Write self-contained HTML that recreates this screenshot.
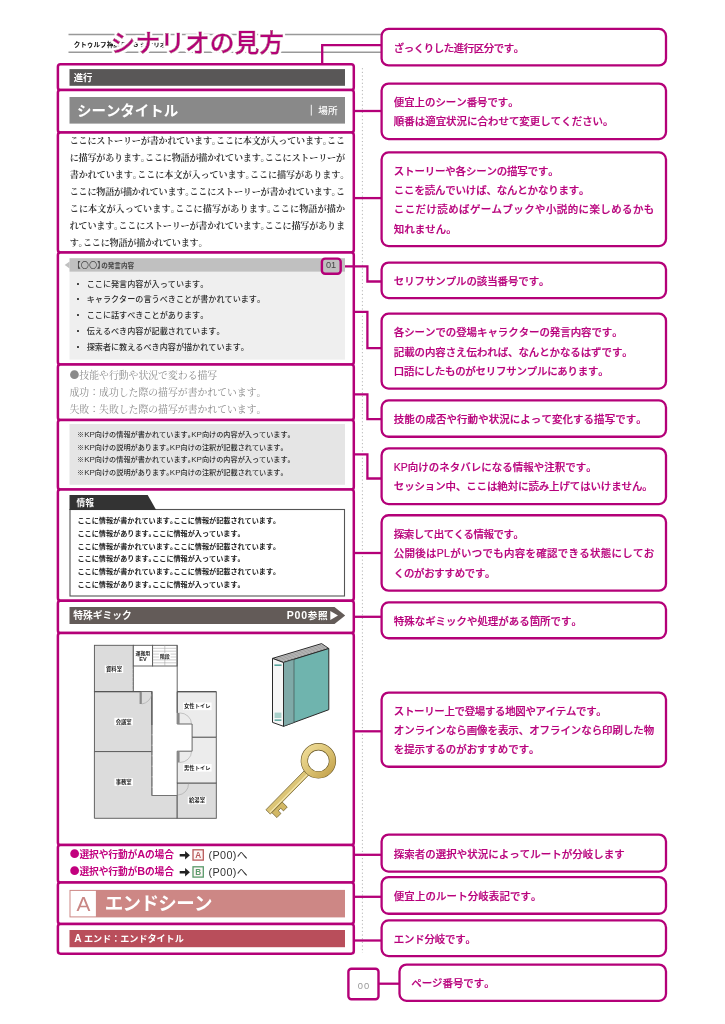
<!DOCTYPE html>
<html lang="ja">
<head>
<meta charset="utf-8">
<title>シナリオの見方</title>
<style>
html,body{margin:0;padding:0;background:#fff;}
body{width:725px;height:1024px;overflow:hidden;font-family:"Liberation Sans","Noto Sans CJK JP",sans-serif;}
svg{display:block;will-change:transform;}
text{white-space:pre;font-kerning:none;}
.h{font-feature-settings:"halt";}
.cg{font-family:"Noto Sans CJK JP","Liberation Sans",sans-serif;}
.cs{font-family:"Noto Serif CJK JP","Noto Serif CJK SC","Liberation Serif",serif;}
</style>
</head>
<body>
<svg width="725" height="1024" viewBox="0 0 725 1024">
<!-- header -->
<line x1="68.5" y1="34.4" x2="381" y2="34.4" stroke="#999" stroke-width="1.5"/>
<line x1="68.5" y1="52.3" x2="381" y2="52.3" stroke="#999" stroke-width="1.5"/>
<text x="73.70" y="46.54" font-size="6.6" font-weight="700" fill="#111" font-family='"Liberation Sans","Noto Sans CJK JP",sans-serif'>クトゥルフ神話TRPG シナリオ</text>
<defs><filter id="ol" x="-5%" y="-20%" width="110%" height="140%"><feMorphology in="SourceAlpha" operator="dilate" radius="2.1" result="d"/><feFlood flood-color="#fff"/><feComposite in2="d" operator="in" result="w"/><feMerge><feMergeNode in="w"/><feMergeNode in="SourceGraphic"/></feMerge></filter></defs>
<text x="110.6" y="52.08" font-size="24.8" font-weight="500" fill="#b40078" stroke="#b40078" stroke-width="0.55" filter="url(#ol)" font-family='"Liberation Sans","Noto Sans CJK JP",sans-serif' textLength="173.5" lengthAdjust="spacing">シナリオの見方</text>
<line x1="362.4" y1="68.2" x2="362.4" y2="953" stroke="#b0b0b0" stroke-width="1" stroke-dasharray="1.1 2.54"/>
<rect x="57.90" y="64.25" width="295.90" height="25.75" rx="2.6" ry="2.6" fill="#fff" stroke="#b40078" stroke-width="2.5"/>
<rect x="57.90" y="90.00" width="295.90" height="42.55" rx="2.6" ry="2.6" fill="#fff" stroke="#b40078" stroke-width="2.5"/>
<rect x="57.90" y="132.55" width="295.90" height="119.85" rx="2.6" ry="2.6" fill="#fff" stroke="#b40078" stroke-width="2.5"/>
<rect x="57.90" y="252.40" width="295.90" height="112.20" rx="2.6" ry="2.6" fill="#fff" stroke="#b40078" stroke-width="2.5"/>
<rect x="57.90" y="364.60" width="295.90" height="55.40" rx="2.6" ry="2.6" fill="#fff" stroke="#b40078" stroke-width="2.5"/>
<rect x="57.90" y="420.00" width="295.90" height="69.50" rx="2.6" ry="2.6" fill="#fff" stroke="#b40078" stroke-width="2.5"/>
<rect x="57.90" y="489.50" width="295.90" height="111.20" rx="2.6" ry="2.6" fill="#fff" stroke="#b40078" stroke-width="2.5"/>
<rect x="57.90" y="600.70" width="295.90" height="32.40" rx="2.6" ry="2.6" fill="#fff" stroke="#b40078" stroke-width="2.5"/>
<rect x="57.90" y="633.10" width="295.90" height="211.90" rx="2.6" ry="2.6" fill="#fff" stroke="#b40078" stroke-width="2.5"/>
<rect x="57.90" y="845.00" width="295.90" height="37.50" rx="2.6" ry="2.6" fill="#fff" stroke="#b40078" stroke-width="2.5"/>
<rect x="57.90" y="882.50" width="295.90" height="41.40" rx="2.6" ry="2.6" fill="#fff" stroke="#b40078" stroke-width="2.5"/>
<rect x="57.90" y="923.90" width="295.90" height="29.80" rx="2.6" ry="2.6" fill="#fff" stroke="#b40078" stroke-width="2.5"/>
<polyline points="322.20,64.20 322.20,45.10 381.60,45.10" fill="none" stroke="#b40078" stroke-width="2.3" stroke-linejoin="miter"/>
<polyline points="353.80,111.00 381.60,111.00" fill="none" stroke="#b40078" stroke-width="2.3" stroke-linejoin="miter"/>
<polyline points="353.80,198.10 381.60,198.10" fill="none" stroke="#b40078" stroke-width="2.3" stroke-linejoin="miter"/>
<polyline points="353.80,553.00 381.60,553.00" fill="none" stroke="#b40078" stroke-width="2.3" stroke-linejoin="miter"/>
<polyline points="353.80,616.80 381.60,616.80" fill="none" stroke="#b40078" stroke-width="2.3" stroke-linejoin="miter"/>
<polyline points="353.80,731.30 381.60,731.30" fill="none" stroke="#b40078" stroke-width="2.3" stroke-linejoin="miter"/>
<polyline points="353.80,854.80 381.60,854.80" fill="none" stroke="#b40078" stroke-width="2.3" stroke-linejoin="miter"/>
<polyline points="353.80,896.80 381.60,896.80" fill="none" stroke="#b40078" stroke-width="2.3" stroke-linejoin="miter"/>
<polyline points="353.80,940.50 381.60,940.50" fill="none" stroke="#b40078" stroke-width="2.3" stroke-linejoin="miter"/>
<polyline points="341.00,266.30 367.40,266.30 367.40,281.50 381.60,281.50" fill="none" stroke="#b40078" stroke-width="2.3" stroke-linejoin="miter"/>
<polyline points="353.80,311.90 367.40,311.90 367.40,348.20 381.60,348.20" fill="none" stroke="#b40078" stroke-width="2.3" stroke-linejoin="miter"/>
<polyline points="353.80,394.30 367.40,394.30 367.40,419.20 381.60,419.20" fill="none" stroke="#b40078" stroke-width="2.3" stroke-linejoin="miter"/>
<polyline points="353.80,454.30 367.40,454.30 367.40,478.50 381.60,478.50" fill="none" stroke="#b40078" stroke-width="2.3" stroke-linejoin="miter"/>
<polyline points="378.50,983.70 399.50,983.70" fill="none" stroke="#b40078" stroke-width="2.3" stroke-linejoin="miter"/>
<rect x="69.50" y="69.10" width="275.50" height="16.70" fill="#595757"/>
<text x="73.70" y="81.08" font-size="9.4" font-weight="700" fill="#fff" font-family='"Liberation Sans","Noto Sans CJK JP",sans-serif'>進行</text>
<rect x="69.50" y="97.00" width="275.50" height="26.60" fill="#898989"/>
<text x="77.00" y="115.77" font-size="14.5" font-weight="700" fill="#fff" font-family='"Liberation Sans","Noto Sans CJK JP",sans-serif' textLength="101.2" lengthAdjust="spacing">シーンタイトル</text>
<line x1="311.3" y1="104.8" x2="311.3" y2="115.6" stroke="#fff" stroke-width="0.9"/>
<text x="318.30" y="113.85" font-size="9.6" font-weight="500" fill="#fff" font-family='"Liberation Sans","Noto Sans CJK JP",sans-serif'>場所</text>
<text x="69.70" y="143.57" font-size="9.1" font-weight="700" fill="#3c3c3c" font-family='"Liberation Serif","Noto Serif CJK JP","Noto Serif CJK SC",serif' textLength="275.3" lengthAdjust="spacing">ここにストーリーが書かれています<tspan class="h">。</tspan>ここに本文が入っています<tspan class="h">。</tspan>ここ</text>
<text x="69.70" y="160.57" font-size="9.1" font-weight="700" fill="#3c3c3c" font-family='"Liberation Serif","Noto Serif CJK JP","Noto Serif CJK SC",serif' textLength="275.3" lengthAdjust="spacing">に描写があります<tspan class="h">。</tspan>ここに物語が描かれています<tspan class="h">。</tspan>ここにストーリーが</text>
<text x="69.70" y="177.57" font-size="9.1" font-weight="700" fill="#3c3c3c" font-family='"Liberation Serif","Noto Serif CJK JP","Noto Serif CJK SC",serif' textLength="279.6" lengthAdjust="spacing">書かれています<tspan class="h">。</tspan>ここに本文が入っています<tspan class="h">。</tspan>ここに描写があります。</text>
<text x="69.70" y="194.57" font-size="9.1" font-weight="700" fill="#3c3c3c" font-family='"Liberation Serif","Noto Serif CJK JP","Noto Serif CJK SC",serif' textLength="275.3" lengthAdjust="spacing">ここに物語が描かれています<tspan class="h">。</tspan>ここにストーリーが書かれています<tspan class="h">。</tspan>こ</text>
<text x="69.70" y="211.57" font-size="9.1" font-weight="700" fill="#3c3c3c" font-family='"Liberation Serif","Noto Serif CJK JP","Noto Serif CJK SC",serif' textLength="275.3" lengthAdjust="spacing">こに本文が入っています<tspan class="h">。</tspan>ここに描写があります<tspan class="h">。</tspan>ここに物語が描か</text>
<text x="69.70" y="228.57" font-size="9.1" font-weight="700" fill="#3c3c3c" font-family='"Liberation Serif","Noto Serif CJK JP","Noto Serif CJK SC",serif' textLength="275.3" lengthAdjust="spacing">れています<tspan class="h">。</tspan>ここにストーリーが書かれています<tspan class="h">。</tspan>ここに描写がありま</text>
<text x="69.70" y="245.57" font-size="9.1" font-weight="700" fill="#3c3c3c" font-family='"Liberation Serif","Noto Serif CJK JP","Noto Serif CJK SC",serif' textLength="137.9" lengthAdjust="spacing">す<tspan class="h">。</tspan>ここに物語が描かれています。</text>
<rect x="69.50" y="271.60" width="275.50" height="88.00" fill="#efefef"/>
<rect x="69.50" y="258.20" width="275.50" height="13.50" fill="#c0c0c0"/>
<polygon points="69.6,261.4 64.7,264.9 69.6,268.4" fill="#c0c0c0"/>
<text x="76.6" y="267.93" font-family='"Liberation Sans","Noto Sans CJK JP",sans-serif' fill="#444"><tspan font-size="8.2" font-weight="400"><tspan class="h">【</tspan>〇〇<tspan class="h">】</tspan></tspan><tspan font-size="6.6" font-weight="700" dy="-0.3">の発言内容</tspan></text>
<rect x="321.90" y="258.60" width="18.80" height="15.20" rx="3.2" ry="3.2" fill="#c0c0c0" stroke="#b40078" stroke-width="2.4"/>
<text x="331.00" y="268.47" font-size="9.2" font-weight="400" fill="#444" font-family='"Liberation Sans","Noto Sans CJK JP",sans-serif' text-anchor="middle">01</text>
<text x="74.00" y="286.56" font-size="8" font-weight="700" fill="#222" font-family='"Liberation Sans","Noto Sans CJK JP",sans-serif'>・</text>
<text x="86.70" y="286.60" font-size="8.12" font-weight="500" fill="#2e2e2e" font-family='"Liberation Sans","Noto Sans CJK JP",sans-serif'>ここに発言内容が入っています。</text>
<text x="74.00" y="302.31" font-size="8" font-weight="700" fill="#222" font-family='"Liberation Sans","Noto Sans CJK JP",sans-serif'>・</text>
<text x="86.70" y="302.35" font-size="8.12" font-weight="500" fill="#2e2e2e" font-family='"Liberation Sans","Noto Sans CJK JP",sans-serif'>キャラクターの言うべきことが書かれています。</text>
<text x="74.00" y="318.06" font-size="8" font-weight="700" fill="#222" font-family='"Liberation Sans","Noto Sans CJK JP",sans-serif'>・</text>
<text x="86.70" y="318.10" font-size="8.12" font-weight="500" fill="#2e2e2e" font-family='"Liberation Sans","Noto Sans CJK JP",sans-serif'>ここに話すべきことがあります。</text>
<text x="74.00" y="333.81" font-size="8" font-weight="700" fill="#222" font-family='"Liberation Sans","Noto Sans CJK JP",sans-serif'>・</text>
<text x="86.70" y="333.85" font-size="8.12" font-weight="500" fill="#2e2e2e" font-family='"Liberation Sans","Noto Sans CJK JP",sans-serif'>伝えるべき内容が記載されています。</text>
<text x="74.00" y="349.56" font-size="8" font-weight="700" fill="#222" font-family='"Liberation Sans","Noto Sans CJK JP",sans-serif'>・</text>
<text x="86.70" y="349.60" font-size="8.12" font-weight="500" fill="#2e2e2e" font-family='"Liberation Sans","Noto Sans CJK JP",sans-serif'>探索者に教えるべき内容が描かれています。</text>
<text x="69.50" y="378.94" font-size="9.85" font-weight="400" fill="#8a8a8a" font-family='"Liberation Serif","Noto Serif CJK JP","Noto Serif CJK SC",serif'><tspan class="cs">●</tspan>技能や行動や状況で変わる描写</text>
<text x="69.50" y="395.84" font-size="9.85" font-weight="400" fill="#8a8a8a" font-family='"Liberation Serif","Noto Serif CJK JP","Noto Serif CJK SC",serif'>成功：成功した際の描写が書かれています。</text>
<text x="69.50" y="412.84" font-size="9.85" font-weight="400" fill="#8a8a8a" font-family='"Liberation Serif","Noto Serif CJK JP","Noto Serif CJK SC",serif'>失敗：失敗した際の描写が書かれています。</text>
<rect x="69.50" y="424.00" width="275.50" height="60.80" fill="#e5e5e5"/>
<text x="77.00" y="437.25" font-size="7.15" font-weight="500" fill="#2e2e2e" font-family='"Liberation Sans","Noto Sans CJK JP",sans-serif'>※<tspan font-size="8.01">KP</tspan>向けの情報が書かれています<tspan class="h">。</tspan><tspan font-size="8.01">KP</tspan>向けの内容が入っています。</text>
<text x="77.00" y="449.85" font-size="7.15" font-weight="500" fill="#2e2e2e" font-family='"Liberation Sans","Noto Sans CJK JP",sans-serif'>※<tspan font-size="8.01">KP</tspan>向けの説明があります<tspan class="h">。</tspan><tspan font-size="8.01">KP</tspan>向けの注釈が記載されています。</text>
<text x="77.00" y="462.45" font-size="7.15" font-weight="500" fill="#2e2e2e" font-family='"Liberation Sans","Noto Sans CJK JP",sans-serif'>※<tspan font-size="8.01">KP</tspan>向けの情報が書かれています<tspan class="h">。</tspan><tspan font-size="8.01">KP</tspan>向けの内容が入っています。</text>
<text x="77.00" y="475.05" font-size="7.15" font-weight="500" fill="#2e2e2e" font-family='"Liberation Sans","Noto Sans CJK JP",sans-serif'>※<tspan font-size="8.01">KP</tspan>向けの説明があります<tspan class="h">。</tspan><tspan font-size="8.01">KP</tspan>向けの注釈が記載されています。</text>
<rect x="70.0" y="509.5" width="274.50" height="86.5" fill="#fff" stroke="#555" stroke-width="1.1"/>
<polygon points="69.5,495 147.7,495 156.2,510 69.5,510" fill="#333"/>
<text x="76.60" y="505.92" font-size="8.7" font-weight="700" fill="#fff" font-family='"Liberation Sans","Noto Sans CJK JP",sans-serif'>情報</text>
<text x="77.50" y="523.23" font-size="7.12" font-weight="700" fill="#222" font-family='"Liberation Sans","Noto Sans CJK JP",sans-serif'>ここに情報が書かれています<tspan class="h">。</tspan>ここに情報が記載されています。</text>
<text x="77.50" y="535.93" font-size="7.12" font-weight="700" fill="#222" font-family='"Liberation Sans","Noto Sans CJK JP",sans-serif'>ここに情報があります<tspan class="h">。</tspan>ここに情報が入っています。</text>
<text x="77.50" y="548.63" font-size="7.12" font-weight="700" fill="#222" font-family='"Liberation Sans","Noto Sans CJK JP",sans-serif'>ここに情報が書かれています<tspan class="h">。</tspan>ここに情報が記載されています。</text>
<text x="77.50" y="561.33" font-size="7.12" font-weight="700" fill="#222" font-family='"Liberation Sans","Noto Sans CJK JP",sans-serif'>ここに情報があります<tspan class="h">。</tspan>ここに情報が入っています。</text>
<text x="77.50" y="574.03" font-size="7.12" font-weight="700" fill="#222" font-family='"Liberation Sans","Noto Sans CJK JP",sans-serif'>ここに情報が書かれています<tspan class="h">。</tspan>ここに情報が記載されています。</text>
<text x="77.50" y="586.73" font-size="7.12" font-weight="700" fill="#222" font-family='"Liberation Sans","Noto Sans CJK JP",sans-serif'>ここに情報があります<tspan class="h">。</tspan>ここに情報が入っています。</text>
<polygon points="69.5,606.9 334.5,606.9 345.2,615.45 334.5,624 69.5,624" fill="#635b58"/>
<text x="73.20" y="619.01" font-size="9.75" font-weight="700" fill="#fff" font-family='"Liberation Sans","Noto Sans CJK JP",sans-serif'>特殊ギミック</text>
<text x="286.70" y="618.95" font-size="9.6" font-weight="700" fill="#fff" font-family='"Liberation Sans","Noto Sans CJK JP",sans-serif' textLength="41.0" lengthAdjust="spacing"><tspan font-size="10.56">P00</tspan>参照</text>
<polygon points="330.3,611 338.0,615.45 330.3,619.9" fill="#fff"/>
<g id="floorplan" stroke="#555" stroke-width="0.9" stroke-linejoin="miter">
<rect x="94.4" y="645.3" width="38.9" height="46.3" fill="#dcdcdc"/>
<rect x="133.3" y="645.3" width="19.3" height="20.7" fill="#fff"/>
<rect x="152.6" y="645.3" width="24.5" height="20.7" fill="#fff"/>
<rect x="94.4" y="691.6" width="57.5" height="60.0" fill="#dcdcdc"/>
<polygon points="94.4,751.6 151.9,751.6 151.9,795.5 177.2,795.5 177.2,818.3 94.4,818.3" fill="#dcdcdc"/>
<polygon points="177.2,691.7 216.3,691.7 216.3,737.3 192.1,737.3 192.1,724 177.2,724" fill="#ececec"/>
<polygon points="192.1,737.3 216.3,737.3 216.3,783.2 177.2,783.2 177.2,751.2 192.1,751.2" fill="#ececec"/>
<rect x="177.2" y="783.2" width="39.1" height="35.1" fill="#dcdcdc"/>
<line x1="177.2" y1="645.3" x2="177.2" y2="712.9" fill="none"/>
<line x1="133.3" y1="666" x2="133.3" y2="691.6" stroke="#777" stroke-width="0.7" stroke-dasharray="3 1"/>
<line x1="151.9" y1="691.6" x2="151.9" y2="725" stroke-width="1.2"/>
<line x1="151.9" y1="725" x2="151.9" y2="795.5" stroke="#777" stroke-width="0.8" stroke-dasharray="9 1.5"/>
<line x1="151.9" y1="795.5" x2="177.2" y2="795.5" stroke="#777" stroke-width="0.8"/>
<line x1="94.4" y1="691.6" x2="140.5" y2="691.6" stroke-width="1.3"/>
<line x1="177.2" y1="691.7" x2="216.3" y2="691.7" stroke-width="1.3"/>
<line x1="152.6" y1="648.3" x2="177.1" y2="648.3" stroke="#999" stroke-width="0.5"/>
<line x1="152.6" y1="651.2" x2="177.1" y2="651.2" stroke="#999" stroke-width="0.5"/>
<line x1="152.6" y1="654.1" x2="177.1" y2="654.1" stroke="#999" stroke-width="0.5"/>
<line x1="152.6" y1="657.0" x2="177.1" y2="657.0" stroke="#999" stroke-width="0.5"/>
<line x1="152.6" y1="659.9" x2="177.1" y2="659.9" stroke="#999" stroke-width="0.5"/>
<line x1="152.6" y1="662.8" x2="177.1" y2="662.8" stroke="#999" stroke-width="0.5"/>
<line x1="164.8" y1="645.3" x2="164.8" y2="666" stroke="#999" stroke-width="0.5"/>
<rect x="139.6" y="692" width="2.2" height="12" fill="#888" stroke="none"/>
<path d="M141.8 704 A12 12 0 0 0 151.9 694" fill="none" stroke="#999" stroke-width="0.5"/>
<rect x="177.2" y="712.9" width="2.4" height="11.1" fill="#888" stroke="none"/>
<path d="M179.6 712.9 A12 11 0 0 1 191.5 724" fill="none" stroke="#999" stroke-width="0.5"/>
<rect x="177.2" y="751.2" width="2.4" height="11.3" fill="#888" stroke="none"/>
<path d="M179.6 762.5 A12 11 0 0 0 191.5 751.5" fill="none" stroke="#999" stroke-width="0.5"/>
<path d="M178 795 A11 11 0 0 0 188.5 783.6" fill="none" stroke="#999" stroke-width="0.5"/>
</g>
<rect x="104.75" y="665.40" width="18.50" height="7.60" fill="#fff"/>
<text x="114.00" y="671.16" font-size="5.3" font-weight="700" fill="#222" font-family='"Liberation Sans","Noto Sans CJK JP",sans-serif' text-anchor="middle">資料室</text>
<rect x="114.35" y="717.80" width="18.50" height="7.60" fill="#fff"/>
<text x="123.60" y="723.56" font-size="5.3" font-weight="700" fill="#222" font-family='"Liberation Sans","Noto Sans CJK JP",sans-serif' text-anchor="middle">会議室</text>
<rect x="114.45" y="778.30" width="18.50" height="7.60" fill="#fff"/>
<text x="123.70" y="784.06" font-size="5.3" font-weight="700" fill="#222" font-family='"Liberation Sans","Noto Sans CJK JP",sans-serif' text-anchor="middle">事務室</text>
<rect x="183.05" y="702.50" width="28.50" height="7.60" fill="#fff"/>
<text x="197.30" y="708.26" font-size="5.3" font-weight="700" fill="#222" font-family='"Liberation Sans","Noto Sans CJK JP",sans-serif' text-anchor="middle">女性トイレ</text>
<rect x="183.05" y="764.00" width="28.50" height="7.60" fill="#fff"/>
<text x="197.30" y="769.76" font-size="5.3" font-weight="700" fill="#222" font-family='"Liberation Sans","Noto Sans CJK JP",sans-serif' text-anchor="middle">男性トイレ</text>
<rect x="187.75" y="796.60" width="18.50" height="7.60" fill="#fff"/>
<text x="197.00" y="802.36" font-size="5.3" font-weight="700" fill="#222" font-family='"Liberation Sans","Noto Sans CJK JP",sans-serif' text-anchor="middle">給湯室</text>
<text x="142.90" y="655.01" font-size="4.9" font-weight="700" fill="#222" font-family='"Liberation Sans","Noto Sans CJK JP",sans-serif' text-anchor="middle">運搬用</text>
<text x="142.90" y="661.37" font-size="5.6" font-weight="700" fill="#222" font-family='"Liberation Sans","Noto Sans CJK JP",sans-serif' text-anchor="middle">EV</text>
<rect x="159.05" y="653.20" width="11.50" height="5.60" fill="#fff"/>
<text x="164.80" y="657.85" font-size="5.0" font-weight="700" fill="#222" font-family='"Liberation Sans","Noto Sans CJK JP",sans-serif' text-anchor="middle">階段</text>
<g id="book" stroke="#2a2a2a" stroke-width="1" stroke-linejoin="round">
<polygon points="272.5,658.4 321.6,643.6 328.8,648.5 283.5,662.5" fill="#c9c9c9"/>
<line x1="274.9" y1="659.3" x2="323.2" y2="644.7" stroke="#777" stroke-width="0.5"/>
<line x1="277.1" y1="660.1" x2="324.6" y2="645.7" stroke="#777" stroke-width="0.5"/>
<line x1="279.3" y1="660.9" x2="326.1" y2="646.6" stroke="#777" stroke-width="0.5"/>
<line x1="281.5" y1="661.8" x2="327.5" y2="647.6" stroke="#777" stroke-width="0.5"/>
<polygon points="283.5,662.5 328.8,648.5 328.8,709.7 283.5,726.3" fill="#6fb4ae"/>
<polygon points="283.5,662.5 294,659.3 294,722.5 283.5,726.3" fill="#7faaa8" stroke-width="0.5"/>
<polygon points="272.5,658.4 283.5,662.5 283.5,726.3 272.5,722.4" fill="#f6f6f6"/>
<rect x="274.4" y="664.4" width="7.2" height="1.6" fill="#5aa59d" stroke="none"/>
<rect x="274.6" y="712.6" width="6.8" height="5.4" fill="#a9d0ca" stroke="none"/>
<rect x="274.6" y="719.4" width="6.8" height="1.5" fill="#5aa59d" stroke="none"/>
</g>
<defs><linearGradient id="gold" x1="0" y1="0" x2="1" y2="1"><stop offset="0" stop-color="#efdc98"/><stop offset="0.55" stop-color="#d9c070"/><stop offset="1" stop-color="#c4a24c"/></linearGradient></defs>
<g id="key" transform="translate(318.4 760.8)">
<g transform="rotate(134.5)">
<path d="M12 -3.1 L71.7 -3.1 L71.7 3.1 L12 3.1 Z" fill="#dcc576" stroke="#6b5a2a" stroke-width="0.7" stroke-linejoin="round"/>
<path d="M54.8 -3.1 L54.8 -10.2 L60.2 -10.2 L60.2 -6.4 L63.8 -6.4 L63.8 -10.2 L69.6 -10.2 L69.6 -3.1 Z" fill="#d2b865" stroke="#6b5a2a" stroke-width="0.7" stroke-linejoin="round"/>
<line x1="14" y1="-1.6" x2="71" y2="-1.6" stroke="#f3e5ae" stroke-width="1.2"/>
</g>
<circle r="14.05" fill="none" stroke="#6b5a2a" stroke-width="7.3"/>
<circle r="14.05" fill="none" stroke="url(#gold)" stroke-width="6.1"/>
</g>
<text x="69.80" y="857.81" font-size="9.75" font-weight="700" fill="#c2007e" font-family='"Liberation Sans","Noto Sans CJK JP",sans-serif' textLength="104.2" lengthAdjust="spacing"><tspan class="cg">●</tspan>選択や行動が<tspan font-size="10.92">A</tspan>の場合</text>
<path d="M179.7 853.90 h5.4 v-2.9 l4.8 4.2 l-4.8 4.2 v-2.9 h-5.4 z" fill="#222"/>
<rect x="193.0" y="849.80" width="10.3" height="10.3" fill="#fdf6f6" stroke="#b85a5a" stroke-width="1.3"/>
<text x="198.15" y="857.90" font-size="8.2" font-weight="700" fill="#b85a5a" font-family='"Liberation Sans","Noto Sans CJK JP",sans-serif' text-anchor="middle">A</text>
<text x="208.60" y="858.80" font-size="10.8" font-weight="400" fill="#333" font-family='"Liberation Sans","Noto Sans CJK JP",sans-serif' textLength="39.0" lengthAdjust="spacing">(P00)へ</text>
<text x="69.80" y="874.81" font-size="9.75" font-weight="700" fill="#c2007e" font-family='"Liberation Sans","Noto Sans CJK JP",sans-serif' textLength="104.2" lengthAdjust="spacing"><tspan class="cg">●</tspan>選択や行動が<tspan font-size="10.92">B</tspan>の場合</text>
<path d="M179.7 870.90 h5.4 v-2.9 l4.8 4.2 l-4.8 4.2 v-2.9 h-5.4 z" fill="#222"/>
<rect x="193.0" y="866.80" width="10.3" height="10.3" fill="#fdf6f6" stroke="#5a9a6a" stroke-width="1.3"/>
<text x="198.15" y="874.90" font-size="8.2" font-weight="700" fill="#5a9a6a" font-family='"Liberation Sans","Noto Sans CJK JP",sans-serif' text-anchor="middle">B</text>
<text x="208.60" y="875.80" font-size="10.8" font-weight="400" fill="#333" font-family='"Liberation Sans","Noto Sans CJK JP",sans-serif' textLength="39.0" lengthAdjust="spacing">(P00)へ</text>
<rect x="69.50" y="889.90" width="275.50" height="27.50" fill="#cd8785"/>
<rect x="70.5" y="890.9" width="25.4" height="25.5" fill="#fff"/>
<text x="83.50" y="910.75" font-size="20.8" font-weight="400" fill="#c98684" font-family='"Liberation Sans","Noto Sans CJK JP",sans-serif' text-anchor="middle">A</text>
<text x="104.70" y="910.05" font-size="18.5" font-weight="700" fill="#fff" font-family='"Liberation Sans","Noto Sans CJK JP",sans-serif' textLength="107.8" lengthAdjust="spacing">エンドシーン</text>
<rect x="69.50" y="930.00" width="275.50" height="17.20" fill="#b94e5b"/>
<text x="74.20" y="942.17" font-size="9.1" font-weight="700" fill="#fff" font-family='"Liberation Sans","Noto Sans CJK JP",sans-serif' textLength="109.6" lengthAdjust="spacing"><tspan font-size="10.19">A</tspan> エンド：エンドタイトル</text>
<rect x="348.40" y="968.80" width="30.10" height="30.40" rx="3" ry="3" fill="#fff" stroke="#b40078" stroke-width="2.4"/>
<text x="363.40" y="988.88" font-size="9.4" font-weight="400" fill="#999" font-family='"Liberation Sans","Noto Sans CJK JP",sans-serif' text-anchor="middle" textLength="11.4" lengthAdjust="spacing">00</text>
<rect x="381.60" y="28.95" width="284.40" height="36.50" rx="7" ry="7" fill="#fff" stroke="#b40078" stroke-width="2.3"/>
<text x="393.80" y="51.67" font-size="10.45" font-weight="500" fill="#b8007c" font-family='"Liberation Sans","Noto Sans CJK JP",sans-serif' textLength="130.4" lengthAdjust="spacing" stroke="#b8007c" stroke-width="0.22">ざっくりした進行区分です。</text>
<rect x="381.60" y="83.55" width="284.40" height="55.50" rx="7" ry="7" fill="#fff" stroke="#b40078" stroke-width="2.3"/>
<text x="393.80" y="106.17" font-size="10.45" font-weight="500" fill="#b8007c" font-family='"Liberation Sans","Noto Sans CJK JP",sans-serif' textLength="124.9" lengthAdjust="spacing" stroke="#b8007c" stroke-width="0.22">便宜上のシーン番号です。</text>
<text x="393.80" y="125.37" font-size="10.45" font-weight="500" fill="#b8007c" font-family='"Liberation Sans","Noto Sans CJK JP",sans-serif' textLength="219.7" lengthAdjust="spacing" stroke="#b8007c" stroke-width="0.22">順番は適宜状況に合わせて変更してください。</text>
<rect x="381.60" y="152.45" width="284.40" height="93.60" rx="7" ry="7" fill="#fff" stroke="#b40078" stroke-width="2.3"/>
<text x="393.80" y="174.92" font-size="10.45" font-weight="500" fill="#b8007c" font-family='"Liberation Sans","Noto Sans CJK JP",sans-serif' textLength="164.9" lengthAdjust="spacing" stroke="#b8007c" stroke-width="0.22">ストーリーや各シーンの描写です。</text>
<text x="393.80" y="194.12" font-size="10.45" font-weight="500" fill="#b8007c" font-family='"Liberation Sans","Noto Sans CJK JP",sans-serif' textLength="195.7" lengthAdjust="spacing" stroke="#b8007c" stroke-width="0.22">ここを読んでいけば、なんとかなります。</text>
<text x="393.80" y="213.32" font-size="10.45" font-weight="500" fill="#b8007c" font-family='"Liberation Sans","Noto Sans CJK JP",sans-serif' textLength="260.4" lengthAdjust="spacing" stroke="#b8007c" stroke-width="0.22">ここだけ読めばゲームブックや小説的に楽しめるかも</text>
<text x="393.80" y="232.52" font-size="10.45" font-weight="500" fill="#b8007c" font-family='"Liberation Sans","Noto Sans CJK JP",sans-serif' textLength="62.9" lengthAdjust="spacing" stroke="#b8007c" stroke-width="0.22">知れません。</text>
<rect x="381.60" y="262.55" width="284.40" height="35.50" rx="7" ry="7" fill="#fff" stroke="#b40078" stroke-width="2.3"/>
<text x="393.80" y="284.77" font-size="10.45" font-weight="500" fill="#b8007c" font-family='"Liberation Sans","Noto Sans CJK JP",sans-serif' textLength="155.7" lengthAdjust="spacing" stroke="#b8007c" stroke-width="0.22">セリフサンプルの該当番号です。</text>
<rect x="381.60" y="313.65" width="284.40" height="74.90" rx="7" ry="7" fill="#fff" stroke="#b40078" stroke-width="2.3"/>
<text x="393.80" y="336.37" font-size="10.45" font-weight="500" fill="#b8007c" font-family='"Liberation Sans","Noto Sans CJK JP",sans-serif' textLength="228.9" lengthAdjust="spacing" stroke="#b8007c" stroke-width="0.22">各シーンでの登場キャラクターの発言内容です。</text>
<text x="393.80" y="355.57" font-size="10.45" font-weight="500" fill="#b8007c" font-family='"Liberation Sans","Noto Sans CJK JP",sans-serif' textLength="238.9" lengthAdjust="spacing" stroke="#b8007c" stroke-width="0.22">記載の内容さえ伝われば、なんとかなるはずです。</text>
<text x="393.80" y="374.77" font-size="10.45" font-weight="500" fill="#b8007c" font-family='"Liberation Sans","Noto Sans CJK JP",sans-serif' textLength="214.9" lengthAdjust="spacing" stroke="#b8007c" stroke-width="0.22">口語にしたものがセリフサンプルにあります。</text>
<rect x="381.60" y="400.45" width="284.40" height="36.30" rx="7" ry="7" fill="#fff" stroke="#b40078" stroke-width="2.3"/>
<text x="393.80" y="423.07" font-size="10.45" font-weight="500" fill="#b8007c" font-family='"Liberation Sans","Noto Sans CJK JP",sans-serif' textLength="252.9" lengthAdjust="spacing" stroke="#b8007c" stroke-width="0.22">技能の成否や行動や状況によって変化する描写です。</text>
<rect x="381.60" y="448.35" width="284.40" height="55.70" rx="7" ry="7" fill="#fff" stroke="#b40078" stroke-width="2.3"/>
<text x="393.80" y="471.07" font-size="10.45" font-weight="500" fill="#b8007c" font-family='"Liberation Sans","Noto Sans CJK JP",sans-serif' textLength="202.9" lengthAdjust="spacing" stroke="#b8007c" stroke-width="0.22">KP向けのネタバレになる情報や注釈です。</text>
<text x="393.80" y="490.27" font-size="10.45" font-weight="500" fill="#b8007c" font-family='"Liberation Sans","Noto Sans CJK JP",sans-serif' textLength="258.9" lengthAdjust="spacing" stroke="#b8007c" stroke-width="0.22">セッション中、ここは絶対に読み上げてはいけません。</text>
<rect x="381.60" y="515.25" width="284.40" height="75.40" rx="7" ry="7" fill="#fff" stroke="#b40078" stroke-width="2.3"/>
<text x="393.80" y="538.22" font-size="10.45" font-weight="500" fill="#b8007c" font-family='"Liberation Sans","Noto Sans CJK JP",sans-serif' textLength="130.1" lengthAdjust="spacing" stroke="#b8007c" stroke-width="0.22">探索して出てくる情報です。</text>
<text x="393.80" y="557.42" font-size="10.45" font-weight="500" fill="#b8007c" font-family='"Liberation Sans","Noto Sans CJK JP",sans-serif' textLength="260.4" lengthAdjust="spacing" stroke="#b8007c" stroke-width="0.22">公開後はPLがいつでも内容を確認できる状態にしてお</text>
<text x="393.80" y="576.62" font-size="10.45" font-weight="500" fill="#b8007c" font-family='"Liberation Sans","Noto Sans CJK JP",sans-serif' textLength="101.7" lengthAdjust="spacing" stroke="#b8007c" stroke-width="0.22">くのがおすすめです。</text>
<rect x="381.60" y="602.45" width="284.40" height="35.80" rx="7" ry="7" fill="#fff" stroke="#b40078" stroke-width="2.3"/>
<text x="393.80" y="624.82" font-size="10.45" font-weight="500" fill="#b8007c" font-family='"Liberation Sans","Noto Sans CJK JP",sans-serif' textLength="188.1" lengthAdjust="spacing" stroke="#b8007c" stroke-width="0.22">特殊なギミックや処理がある箇所です。</text>
<rect x="381.60" y="692.55" width="284.40" height="74.20" rx="7" ry="7" fill="#fff" stroke="#b40078" stroke-width="2.3"/>
<text x="393.80" y="714.92" font-size="10.45" font-weight="500" fill="#b8007c" font-family='"Liberation Sans","Noto Sans CJK JP",sans-serif' textLength="212.9" lengthAdjust="spacing" stroke="#b8007c" stroke-width="0.22">ストーリー上で登場する地図やアイテムです。</text>
<text x="393.80" y="734.12" font-size="10.45" font-weight="500" fill="#b8007c" font-family='"Liberation Sans","Noto Sans CJK JP",sans-serif' textLength="260.4" lengthAdjust="spacing" stroke="#b8007c" stroke-width="0.22">オンラインなら画像を表示、オフラインなら印刷した物</text>
<text x="393.80" y="753.32" font-size="10.45" font-weight="500" fill="#b8007c" font-family='"Liberation Sans","Noto Sans CJK JP",sans-serif' textLength="145.7" lengthAdjust="spacing" stroke="#b8007c" stroke-width="0.22">を提示するのがおすすめです。</text>
<rect x="381.60" y="834.55" width="284.40" height="37.00" rx="7" ry="7" fill="#fff" stroke="#b40078" stroke-width="2.3"/>
<text x="393.80" y="857.52" font-size="10.45" font-weight="500" fill="#b8007c" font-family='"Liberation Sans","Noto Sans CJK JP",sans-serif' textLength="230.8" lengthAdjust="spacing" stroke="#b8007c" stroke-width="0.22">探索者の選択や状況によってルートが分岐します</text>
<rect x="381.60" y="877.05" width="284.40" height="36.70" rx="7" ry="7" fill="#fff" stroke="#b40078" stroke-width="2.3"/>
<text x="393.80" y="899.87" font-size="10.45" font-weight="500" fill="#b8007c" font-family='"Liberation Sans","Noto Sans CJK JP",sans-serif' textLength="147.7" lengthAdjust="spacing" stroke="#b8007c" stroke-width="0.22">便宜上のルート分岐表記です。</text>
<rect x="381.60" y="920.45" width="284.40" height="35.60" rx="7" ry="7" fill="#fff" stroke="#b40078" stroke-width="2.3"/>
<text x="393.80" y="942.72" font-size="10.45" font-weight="500" fill="#b8007c" font-family='"Liberation Sans","Noto Sans CJK JP",sans-serif' textLength="82.1" lengthAdjust="spacing" stroke="#b8007c" stroke-width="0.22">エンド分岐です。</text>
<rect x="399.50" y="964.55" width="266.50" height="36.30" rx="7" ry="7" fill="#fff" stroke="#b40078" stroke-width="2.3"/>
<text x="411.30" y="987.27" font-size="10.45" font-weight="500" fill="#b8007c" font-family='"Liberation Sans","Noto Sans CJK JP",sans-serif' textLength="83.3" lengthAdjust="spacing" stroke="#b8007c" stroke-width="0.22">ページ番号です。</text>
</svg>
</body>
</html>
